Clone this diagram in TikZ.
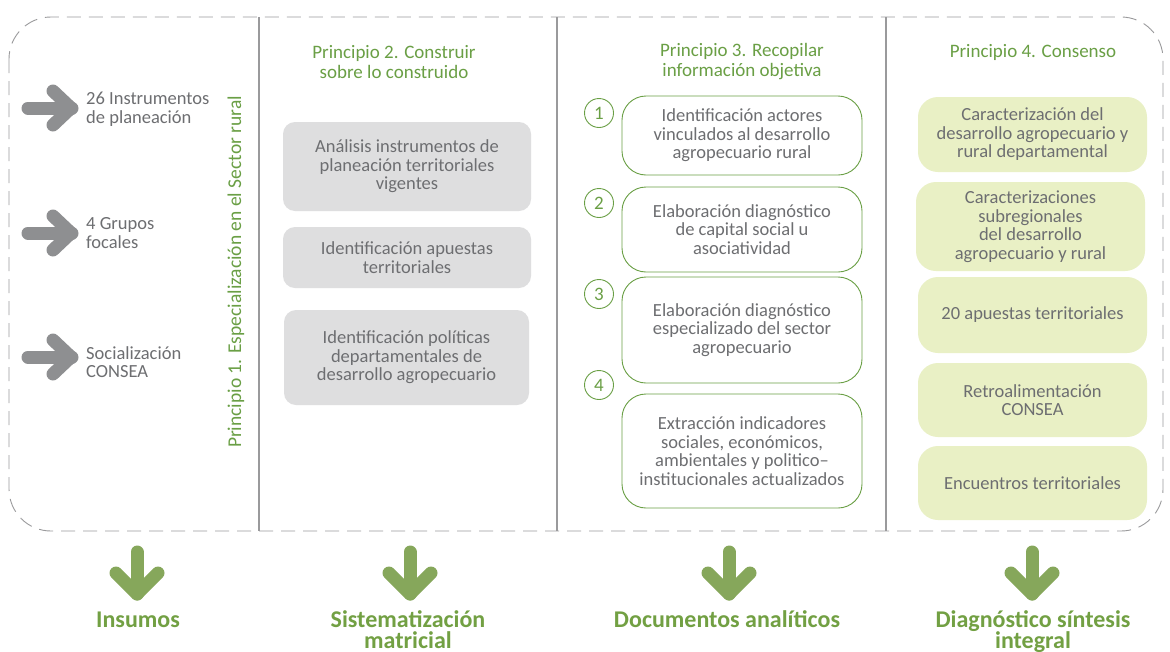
\documentclass[tikz,border=0pt]{standalone}
\usepackage{fontspec}
\setmainfont{Carlito}
\definecolor{txtgray}{HTML}{6D6E71}
\definecolor{arrgray}{HTML}{8E8F91}
\definecolor{lngray}{HTML}{9A9A9C}
\definecolor{ttlgreen}{HTML}{6A9F45}
\definecolor{arrgreen}{HTML}{86A75B}
\definecolor{boxgray}{HTML}{DEDEDF}
\definecolor{boxgreen}{HTML}{E9F0C5}
\definecolor{lblgreen}{HTML}{72A043}
\tikzset{
  body/.style={font=\fontsize{18.5}{18.5}\selectfont, text=txtgray, align=center, inner sep=0pt},
  lefttxt/.style={body, align=left, anchor=west},
  ttl/.style={font=\fontsize{19}{20}\selectfont, text=ttlgreen, align=center, inner sep=0pt},
  graybox/.style={body, fill=boxgray, rounded corners=12pt, minimum width=248pt},
  greenbox/.style={body, fill=boxgreen, rounded corners=20pt, minimum width=229pt},
  linebox/.style={body, draw=ttlgreen, line width=0.9pt, fill=white, rounded corners=24pt, minimum width=240pt},
  numcirc/.style={circle, draw=ttlgreen, line width=0.9pt, minimum size=29pt, inner sep=0pt, text=ttlgreen, font=\fontsize{19}{19}\selectfont},
  lbl/.style={font=\bfseries\fontsize{24}{21}\selectfont, text=lblgreen, align=center, inner sep=0pt, anchor=base},
  arrowline/.style={line width=13pt, line cap=round, line join=round},
  rarrow/.pic={
    \draw[arrowline, arrgray] (-22,0) -- (22,0);
    \draw[arrowline, arrgray] (3,-17) -- (21,0) -- (3,17);
  },
  darrow/.pic={
    \draw[arrowline, arrgreen] (0,-44) -- (0,-2);
    \draw[arrowline, arrgreen] (-21,-23) -- (0,-2) -- (21,-23);
  }
}
\begin{document}
\begin{tikzpicture}[x=1pt,y=-1pt]
\useasboundingbox (0,0) rectangle (1170,651);
\fill[white] (0,0) rectangle (1170,651);

% dashed frame and dividers
\draw[lngray, line width=0.9pt, dash pattern=on 14pt off 8pt, rounded corners=42pt] (9,17) rectangle (1163,531);
\foreach \xx/\nm in {259/da,557/db,886/dc}{
  \coordinate (\nm t) at (\xx,17);
  \coordinate (\nm b) at (\xx,531);
  \draw[lngray, line width=1.2pt] (\nm t) -- (\nm b);
}

% column 1
\pic at (50,108) {rarrow};
\pic at (50,233) {rarrow};
\pic at (50,357) {rarrow};
\node[lefttxt] (in1) at (86,109) {26 Instrumentos\\de planeación};
\node[lefttxt] (in2) at (86,233) {4 Grupos\\focales};
\node[lefttxt] (in3) at (86,362) {Socialización\\CONSEA};
\node[ttl, font=\fontsize{19.5}{20}\selectfont, rotate=90] (p1) at (236,272) {Principio 1. Especialización en el Sector rural};

% column 2
\node[ttl] (p2) at (394,62) {Principio 2. Construir\\sobre lo construido};
\node[graybox, minimum height=89pt] (g1) at (407,166.5) {Análisis instrumentos de\\planeación territoriales\\vigentes};
\node[graybox, minimum height=61pt] (g2) at (407,257.5) {Identificación apuestas\\territoriales};
\node[graybox, minimum width=245pt, minimum height=95pt] (g3) at (406.5,357.5) {Identificación políticas\\departamentales de\\desarrollo agropecuario};

% column 3
\node[ttl] (p3) at (742,62) {Principio 3. Recopilar\\información objetiva};
\node[linebox, minimum height=79pt] (b1) at (742,135.5) {Identificación actores\\vinculados al desarrollo\\agropecuario rural};
\node[linebox, minimum height=85pt] (b2) at (742,229.5) {Elaboración diagnóstico\\de capital social u\\asociatividad};
\node[linebox, minimum height=106pt] (b3) at (742,330) {Elaboración diagnóstico\\especializado del sector\\agropecuario};
\node[linebox, minimum height=114pt] (b4) at (742,451) {Extracción indicadores\\sociales, económicos,\\ambientales y politico–\\institucionales actualizados};
\node[numcirc] (c1) at (599,113) {1};
\node[numcirc] (c2) at (599,203) {2};
\node[numcirc] (c3) at (599,294) {3};
\node[numcirc] (c4) at (599,385) {4};

% column 4
\node[ttl] (p4) at (1033,52) {Principio 4. Consenso};
\node[greenbox, minimum height=75pt] (e1) at (1032.5,134.5) {Caracterización del\\desarrollo agropecuario y\\rural departamental};
\node[greenbox, minimum height=89pt] (e2) at (1030.5,226.5) {Caracterizaciones\\subregionales\\del desarrollo\\agropecuario y rural};
\node[greenbox, minimum height=76pt] (e3) at (1032.5,315) {20 apuestas territoriales};
\node[greenbox, minimum height=74pt] (e4) at (1032.5,400) {Retroalimentación\\CONSEA};
\node[greenbox, minimum height=74pt] (e5) at (1032.5,483) {Encuentros territoriales};

% bottom arrows and labels
\pic at (137,596) {darrow};
\pic at (410,596) {darrow};
\pic at (729,596) {darrow};
\pic at (1032,596) {darrow};
\node[lbl] (l1) at (138,627) {Insumos};
\node[lbl] (l2) at (408,648) {Sistematización\\matricial};
\node[lbl] (l3) at (727,627) {Documentos analíticos};
\node[lbl] (l4) at (1033,648) {Diagnóstico síntesis\\integral};
\end{tikzpicture}
\end{document}
